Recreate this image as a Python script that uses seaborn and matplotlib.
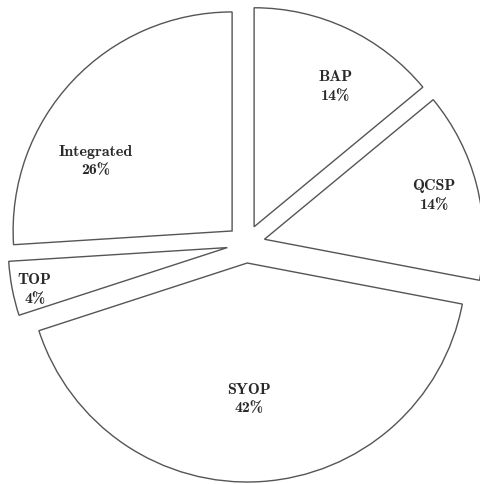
import numpy as np
import seaborn as sns
import matplotlib.pyplot as plt

# Share of each variant (percent), clockwise from 12 o'clock
labels = ["BAP", "QCSP", "SYOP", "TOP", "Integrated"]
shares = [14, 14, 42, 4, 26]

sns.set_theme(style="white")

fig = plt.figure(figsize=(4.8, 4.84), dpi=100)
ax = fig.add_axes([0, 0, 1, 1])

wedges, _ = ax.pie(shares, startangle=90, counterclock=False,
                   explode=[0.087] * len(shares),
                   colors=["white"] * len(shares),
                   wedgeprops=dict(edgecolor="#555555", linewidth=1.0))

# label placement inside each wedge: (radius fraction, angle tweak in deg)
label_place = [(0.74, -5), (0.80, 0), (0.62, -3), (0.90, 1.5), (0.70, 16)]
for w, lab, s, (rf, dth) in zip(wedges, labels, shares, label_place):
    mid = np.deg2rad((w.theta1 + w.theta2) / 2 + dth)
    cx, cy = w.center
    ax.text(cx + rf * np.cos(mid), cy + rf * np.sin(mid), f"{lab}\n{s}%",
            ha="center", va="center", fontsize=11.5, family="cmb10",
            color="#2a2a2a", linespacing=1.4)

# axes scaled so the pie radius is 219 px, centre at (246, 244) px
r = 219.0
ax.set_xlim(-246 / r, (480 - 246) / r)
ax.set_ylim(-(484 - 244) / r, 244 / r)
ax.axis("off")

fig.savefig("out.png", dpi=100, facecolor="white")
